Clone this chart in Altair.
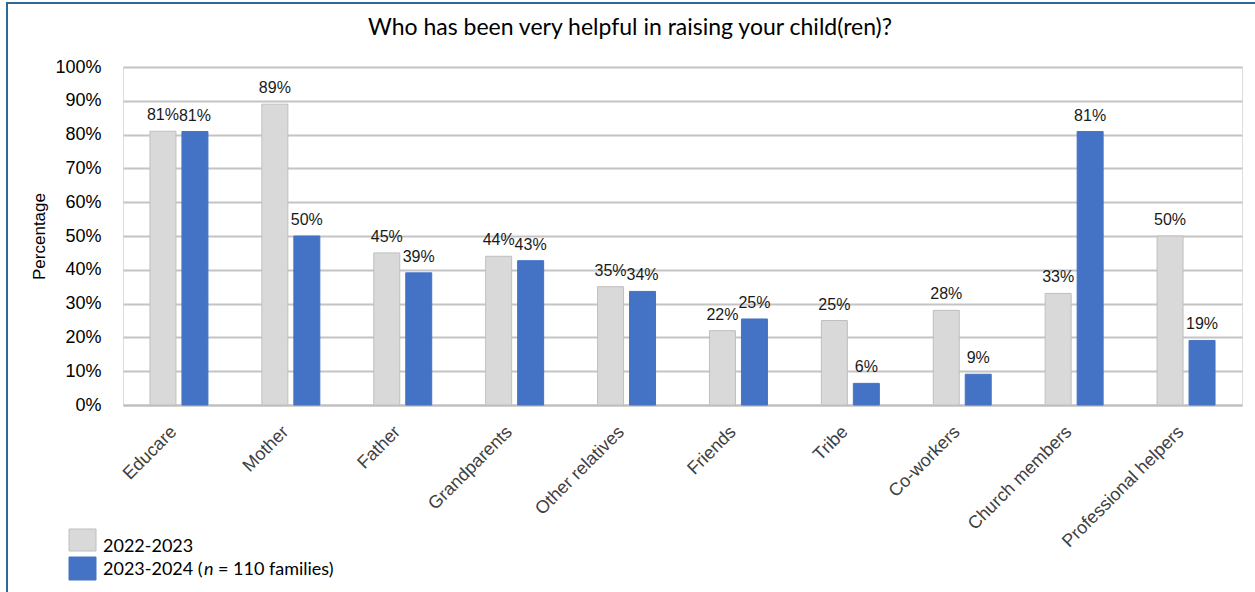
import altair as alt
import pandas as pd

categories = ["Educare", "Mother", "Father", "Grandparents", "Other relatives",
              "Friends", "Tribe", "Co-workers", "Church members", "Professional helpers"]
values_2022 = [0.81, 0.89, 0.45, 0.44, 0.35, 0.22, 0.25, 0.28, 0.33, 0.50]
values_2023 = [0.809, 0.50, 0.391, 0.427, 0.336, 0.2545, 0.064, 0.091, 0.809, 0.191]
series = ["2022-2023", "2023-2024"]
fills = ["#d9d9d9", "#4472c4"]
strokes = ["#bfbfbf", "#4472c4"]
y_ticks = [0, 0.1, 0.2, 0.3, 0.4, 0.5, 0.6, 0.7, 0.8, 0.9, 1.0]
title_text = "Who has been very helpful in raising your child(ren)?"

rows = []
for c, a, b in zip(categories, values_2022, values_2023):
    rows.append({"category": c, "series": series[0], "value": a})
    rows.append({"category": c, "series": series[1], "value": b})
df = pd.DataFrame(rows)

W, H = 1119, 338

x_axis = alt.Axis(title=None, labelAngle=-45, labelAlign="right",
                  labelBaseline="middle", labelFontSize=18,
                  labelFont="Liberation Sans", labelColor="#404040",
                  ticks=False, domain=True, domainColor="#bfbfbf",
                  domainWidth=2, labelPadding=24, labelOffset=-5, labelOverlap=False)
y_axis = alt.Axis(values=y_ticks, format=".0%", title="Percentage",
                  titleFont="Liberation Sans", titleFontSize=17,
                  titleFontWeight="normal", titleColor="#000000",
                  titlePadding=6, labelFont="Liberation Sans",
                  labelFontSize=18, labelColor="#000000",
                  labelPadding=22, labelOverlap=False, ticks=False, domain=False,
                  grid=True, gridColor="#c4c4c4", gridWidth=1.8)

x_enc = alt.X("category:N", sort=categories,
              scale=alt.Scale(paddingInner=0.482, paddingOuter=0.241), axis=x_axis)
xo_enc = alt.XOffset("series:N", sort=series,
                     scale=alt.Scale(paddingInner=0.1875, paddingOuter=0))
y_enc = alt.Y("value:Q", scale=alt.Scale(domain=[0, 1], nice=False), axis=y_axis)

bars = alt.Chart(df).mark_bar(strokeWidth=1).encode(
    x=x_enc, xOffset=xo_enc, y=y_enc,
    color=alt.Color("series:N", scale=alt.Scale(domain=series, range=fills), legend=None),
    stroke=alt.Stroke("series:N", scale=alt.Scale(domain=series, range=strokes), legend=None),
)

labels = alt.Chart(df).mark_text(baseline="alphabetic", dy=-11, fontSize=16,
                                 font="Liberation Sans", color="#1a1a1a").encode(
    x=x_enc, xOffset=xo_enc, y=y_enc, text=alt.Text("value:Q", format=".0%"),
)

one = pd.DataFrame({"k": [0]})

border = alt.Chart(one).mark_rect(fill=None, stroke="#2b6a94", strokeWidth=2).encode(
    x=alt.value(-116), x2=alt.value(W + 40), y=alt.value(-64), y2=alt.value(H + 240))

title = alt.Chart(one).mark_text(font="Lato", fontSize=23, color="#000000",
                                 baseline="middle", align="center").encode(
    x=alt.value(507), y=alt.value(-39), text=alt.value(title_text))

leg_layers = []
leg_y = [(462, 484), (490, 513)]
for i, s in enumerate(series):
    y0, y1 = leg_y[i]
    leg_layers.append(
        alt.Chart(one).mark_rect(fill=fills[i], stroke=strokes[i], strokeWidth=1).encode(
            x=alt.value(-54), x2=alt.value(-27), y=alt.value(y0), y2=alt.value(y1)))

leg_font = dict(font="Lato", fontSize=18, color="#000000", baseline="alphabetic", align="left")
leg_layers.append(alt.Chart(one).mark_text(**leg_font).encode(
    x=alt.value(-20), y=alt.value(485), text=alt.value("2022-2023")))
leg_layers.append(alt.Chart(one).mark_text(**leg_font).encode(
    x=alt.value(-20), y=alt.value(508), text=alt.value("2023-2024 (")))
leg_layers.append(alt.Chart(one).mark_text(fontStyle="italic", **leg_font).encode(
    x=alt.value(81), y=alt.value(508), text=alt.value("n")))
leg_layers.append(alt.Chart(one).mark_text(**leg_font).encode(
    x=alt.value(95), y=alt.value(508), text=alt.value("= 110 families)")))

chart = alt.layer(border, title, bars, labels, *leg_layers).properties(
    width=W, height=H,
    autosize=alt.AutoSizeParams(type="none"),
    padding={"left": 123, "top": 67, "right": 13, "bottom": 187},
).configure_view(stroke=None).configure(background="white")

chart.save("out.html", embed_options={"renderer": "svg", "actions": False})
